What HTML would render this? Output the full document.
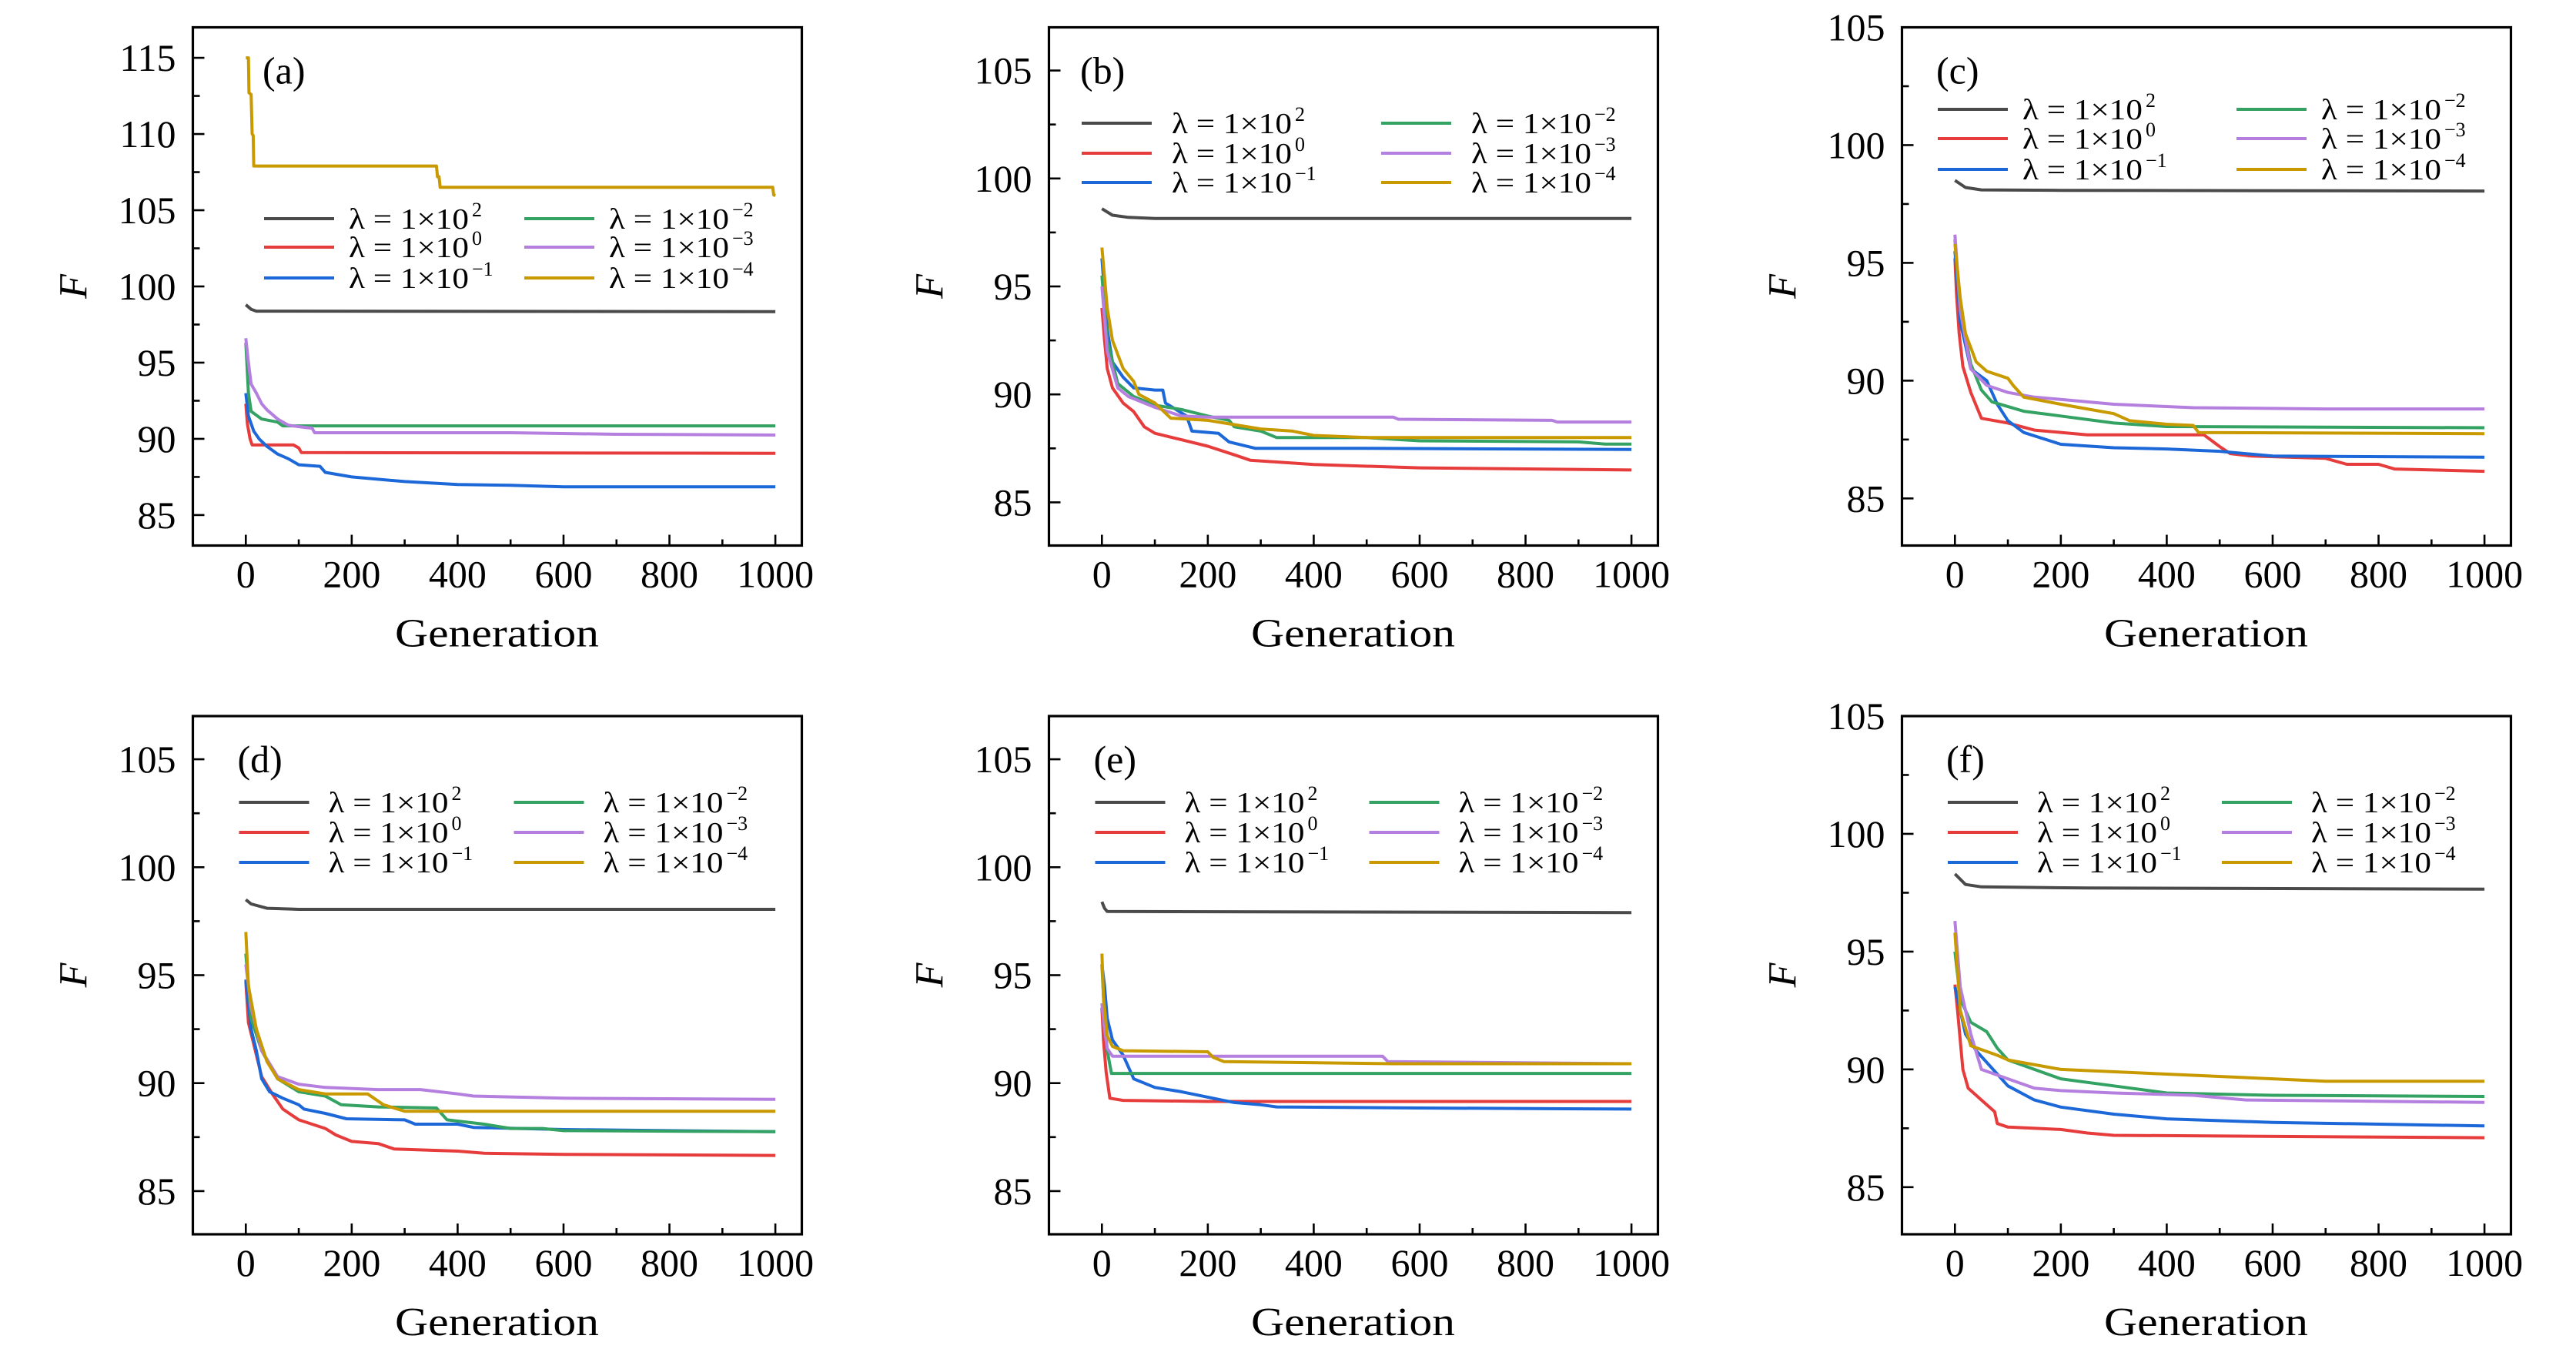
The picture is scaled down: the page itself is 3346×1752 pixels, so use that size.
<!DOCTYPE html>
<html><head><meta charset="utf-8">
<style>
html,body{margin:0;padding:0;background:#fff;}
svg{display:block;}
text{font-family:"Liberation Serif","DejaVu Serif",serif;fill:#000;}
</style></head>
<body>
<svg id="fig" width="3346" height="1752" viewBox="0 0 3346 1752" xmlns="http://www.w3.org/2000/svg"></svg>
<script>
// ---- data (generation, F) per panel & series ----
const xTicks = [0,200,400,600,800,1000];
const seriesLabels = ["2","0","−1","−2","−3","−4"];
const seriesColors = ["#4a4a4a","#e63c3c","#1c68d8","#34a262","#b47fde","#c89a00"];

const a_g0=[0,10,20,1000]; const a_f0=[98.8,98.5,98.38,98.35];
const a_g1=[0,3,8,12,90,100,105,1000]; const a_f1=[92.3,91,90,89.6,89.6,89.4,89.1,89.05];
const a_g2=[0,5,15,25,40,60,80,100,140,150,200,300,400,500,600,1000]; const a_f2=[93,91.5,90.5,90,89.5,89,88.7,88.3,88.2,87.8,87.5,87.2,87.0,86.95,86.85,86.85];
const a_g3=[0,5,10,30,60,70,1000]; const a_f3=[96.3,93,91.8,91.3,91.1,90.85,90.85];
const a_g4=[0,5,10,20,30,40,60,80,100,125,130,500,700,1000]; const a_f4=[96.6,95,93.6,93,92.3,91.9,91.3,90.9,90.8,90.7,90.4,90.4,90.3,90.25];
const a_g5=[0,5,6,10,12,14,15,360,362,365,367,995,997,1000]; const a_f5=[115,115,112.7,112.6,110,109.9,107.9,107.9,107.2,107.2,106.5,106.5,106.0,105.95];

const b_g0=[0,20,50,100,1000]; const b_f0=[98.6,98.3,98.2,98.15,98.15];
const b_g1=[0,5,10,20,40,60,80,100,150,200,250,280,400,600,1000]; const b_f1=[94,92.5,91.2,90.3,89.6,89.2,88.5,88.2,87.9,87.6,87.2,86.95,86.75,86.6,86.5];
const b_g2=[0,10,20,40,60,100,115,120,160,170,220,240,290,500,1000]; const b_f2=[96.3,93,91.5,90.8,90.3,90.2,90.2,89.6,89.0,88.3,88.2,87.8,87.5,87.5,87.45];
const b_g3=[0,10,30,60,100,150,200,240,250,300,330,500,600,900,950,1000]; const b_f3=[95.5,92.5,90.5,89.9,89.5,89.3,89.0,88.8,88.5,88.3,88.0,88.0,87.85,87.8,87.7,87.7];
const b_g4=[0,10,30,50,100,150,200,550,560,850,860,1000]; const b_f4=[95,92,90.3,89.9,89.4,89.0,88.95,88.95,88.85,88.8,88.72,88.72];
const b_g5=[0,10,20,40,60,70,100,130,200,250,300,360,400,500,1000]; const b_f5=[96.8,94,92.5,91.2,90.6,90,89.6,88.9,88.8,88.6,88.4,88.3,88.1,88.0,88.0];

const c_g0=[0,20,50,200,1000]; const c_f0=[98.5,98.2,98.1,98.08,98.05];
const c_g1=[0,3,8,15,30,50,100,150,250,470,500,520,560,700,740,800,830,1000]; const c_f1=[95.2,93.7,92,90.6,89.5,88.4,88.2,87.9,87.7,87.7,87.2,86.9,86.8,86.7,86.45,86.45,86.25,86.15];
const c_g2=[0,10,30,60,80,100,130,200,300,400,500,600,1000]; const c_f2=[95.5,92.5,90.5,90,89,88.3,87.8,87.3,87.15,87.1,87.0,86.8,86.75];
const c_g3=[0,10,30,50,70,130,200,300,400,1000]; const c_f3=[96,93,90.7,89.6,89.1,88.7,88.5,88.2,88.05,88.0];
const c_g4=[0,10,30,60,100,150,200,300,450,700,1000]; const c_f4=[96.2,93,90.5,89.8,89.5,89.3,89.2,89.0,88.85,88.8,88.8];
const c_g5=[0,10,20,40,60,100,110,130,200,250,300,330,400,450,460,1000]; const c_f5=[95.8,93.5,92,90.8,90.4,90.1,89.8,89.3,89.0,88.8,88.6,88.3,88.15,88.1,87.8,87.75];

const d_g0=[0,10,40,100,1000]; const d_f0=[98.5,98.3,98.1,98.05,98.05];
const d_g1=[0,5,15,30,50,70,100,150,170,200,250,280,400,450,600,1000]; const d_f1=[94.7,92.8,91.8,90.3,89.5,88.8,88.3,87.9,87.6,87.3,87.2,86.95,86.85,86.75,86.7,86.65];
const d_g2=[0,10,20,30,45,70,100,110,150,190,300,320,400,430,600,1000]; const d_f2=[94.8,92.5,91.5,90.2,89.6,89.3,89.0,88.8,88.6,88.35,88.3,88.1,88.1,87.95,87.85,87.75];
const d_g3=[0,10,30,60,100,150,180,250,360,380,450,500,560,600,1000]; const d_f3=[96,93,91.5,90.2,89.6,89.4,89.0,88.9,88.85,88.3,88.1,87.9,87.9,87.8,87.75];
const d_g4=[0,10,30,60,100,150,250,330,400,430,600,1000]; const d_f4=[95.5,93.5,91.5,90.3,89.95,89.8,89.7,89.7,89.5,89.4,89.3,89.25];
const d_g5=[0,5,20,40,60,100,150,230,260,300,1000]; const d_f5=[97,94.5,92.5,91,90.2,89.7,89.5,89.5,89.0,88.7,88.7];

const e_g0=[0,5,10,1000]; const e_f0=[98.4,98.1,97.95,97.9];
const e_g1=[0,3,8,15,40,200,1000]; const e_f1=[93.5,92,90.5,89.3,89.2,89.15,89.15];
const e_g2=[0,5,10,20,40,60,80,100,150,200,250,300,330,600,1000]; const e_f2=[95.5,94.5,93,92,91.3,90.2,90,89.8,89.6,89.35,89.1,89.0,88.9,88.85,88.8];
const e_g3=[0,5,10,18,1000]; const e_f3=[95.5,93,91.5,90.45,90.45];
const e_g4=[0,5,10,20,530,540,1000]; const e_f4=[93.7,92.5,91.6,91.25,91.25,91.0,90.9];
const e_g5=[0,3,10,20,40,200,210,230,550,1000]; const e_f5=[96,94,92.2,91.7,91.5,91.45,91.2,91.0,90.9,90.9];

const f_g0=[0,20,50,250,1000]; const f_f0=[98.3,97.85,97.75,97.7,97.65];
const f_g1=[0,5,15,25,50,75,80,100,200,250,300,1000]; const f_f1=[93.6,92.5,90,89.2,88.7,88.2,87.7,87.55,87.45,87.3,87.2,87.1];
const f_g2=[0,10,20,40,80,100,150,200,300,400,600,1000]; const f_f2=[93.5,92.5,91.5,90.8,89.8,89.3,88.7,88.4,88.1,87.9,87.75,87.6];
const f_g3=[0,10,30,60,80,100,150,200,300,400,600,1000]; const f_f3=[95,93,92,91.6,90.9,90.4,90.0,89.6,89.3,89.0,88.9,88.85];
const f_g4=[0,10,30,50,100,150,200,300,450,550,1000]; const f_f4=[96.3,93.5,91.5,90,89.6,89.2,89.1,89.0,88.9,88.7,88.6];
const f_g5=[0,10,30,80,100,200,400,600,700,1000]; const f_f5=[95.8,92.5,91,90.6,90.4,90.0,89.8,89.6,89.5,89.5];

const yTicksA=[85,90,95,100,105,110,115];
const yTicksB=[85,90,95,100,105];

const panels=[
 {id:"a",left:250.5,top:35.5,ymin:83,ymax:117,yt:yTicksA,gens:[a_g0,a_g1,a_g2,a_g3,a_g4,a_g5],vals:[a_f0,a_f1,a_f2,a_f3,a_f4,a_f5],lx:92.5,ly:[284,321,361],col2:338,tx:110},
 {id:"b",left:1362.5,top:35.5,ymin:83,ymax:107,yt:yTicksB,gens:[b_g0,b_g1,b_g2,b_g3,b_g4,b_g5],vals:[b_f0,b_f1,b_f2,b_f3,b_f4,b_f5],lx:42.5,ly:[160,199,237],col2:389,tx:117},
 {id:"c",left:2470.5,top:35.5,ymin:83,ymax:105,yt:yTicksB,gens:[c_g0,c_g1,c_g2,c_g3,c_g4,c_g5],vals:[c_f0,c_f1,c_f2,c_f3,c_f4,c_f5],lx:46.5,ly:[142,180,220],col2:388,tx:110},
 {id:"d",left:250.5,top:930,ymin:83,ymax:107,yt:yTicksB,gens:[d_g0,d_g1,d_g2,d_g3,d_g4,d_g5],vals:[d_f0,d_f1,d_f2,d_f3,d_f4,d_f5],lx:60,ly:[1042,1081,1120],col2:357,tx:116},
 {id:"e",left:1362.5,top:930,ymin:83,ymax:107,yt:yTicksB,gens:[e_g0,e_g1,e_g2,e_g3,e_g4,e_g5],vals:[e_f0,e_f1,e_f2,e_f3,e_f4,e_f5],lx:60,ly:[1042,1081,1120],col2:356,tx:116},
 {id:"f",left:2470.5,top:930,ymin:83,ymax:105,yt:yTicksB,gens:[f_g0,f_g1,f_g2,f_g3,f_g4,f_g5],vals:[f_f0,f_f1,f_f2,f_f3,f_f4,f_f5],lx:59.5,ly:[1042,1081,1120],col2:356,tx:116}
];

const NS="http://www.w3.org/2000/svg";
const svg=document.getElementById("fig");
function mk(tag,attrs,parent){const e=document.createElementNS(NS,tag);for(const k in attrs)e.setAttribute(k,attrs[k]);(parent||svg).appendChild(e);return e;}

const W=791,H=673,XMIN=-100,XMAX=1050;
panels.forEach(p=>{
  const g=mk("g",{});
  
  
  const sx=v=>p.left+(v-XMIN)/(XMAX-XMIN)*W;
  const sy=v=>p.top+H-(v-p.ymin)/(p.ymax-p.ymin)*H;
  const bottom=p.top+H;
  // series
  p.gens.forEach((gs,i)=>{
    const pts=gs.map((x,j)=>sx(x).toFixed(1)+","+sy(p.vals[i][j]).toFixed(1)).join(" ");
    const pl=mk("polyline",{points:pts,fill:"none",stroke:seriesColors[i],"stroke-width":4,"stroke-linejoin":"round"},g);
    
    
  });
  // frame
  const fr=mk("rect",{x:p.left,y:p.top,width:W,height:H,fill:"none",stroke:"#000","stroke-width":3.2},g);
  
  
  // x ticks
  for(let v=0;v<=1000;v+=100){
    const major=v%200===0;
    mk("line",{x1:sx(v),x2:sx(v),y1:bottom,y2:bottom-(major?14:8),stroke:"#000","stroke-width":2.6},g);
  }
  xTicks.forEach(v=>{
    const t=mk("text",{x:sx(v),y:bottom+54,"font-size":50,"text-anchor":"middle"},g);
    t.textContent=String(v);
    
    
  });
  // y ticks
  for(let v=Math.ceil(p.ymin/2.5)*2.5;v<=p.ymax;v+=2.5){
    const major=v%5===0;
    mk("line",{x1:p.left,x2:p.left+(major?15:9),y1:sy(v),y2:sy(v),stroke:"#000","stroke-width":2.6},g);
  }
  p.yt.forEach(v=>{
    const t=mk("text",{x:p.left-22,y:sy(v)+17,"font-size":50,"text-anchor":"end"},g);
    t.textContent=String(v);
    
    
  });
  // axis titles
  const xt=mk("text",{x:p.left+395,y:bottom+131,"font-size":52,"text-anchor":"middle",textLength:265,lengthAdjust:"spacingAndGlyphs"},g);
  xt.textContent="Generation";
  
  
  const cy=p.top+H/2;
  const yt=mk("text",{x:p.left-138,y:cy,"font-size":52,"font-style":"italic","text-anchor":"middle",transform:"rotate(-90 "+(p.left-138)+" "+cy+")"},g);
  yt.textContent="F";
  
  
  // panel label
  const pl=mk("text",{x:p.left+p.lx-2,y:p.top+73,"font-size":50},g);
  pl.textContent="("+p.id+")";
  
  
  // legend
  const lg=mk("g",{},g);
  
  
  seriesLabels.forEach((s,i)=>{
    const col=Math.floor(i/3),row=i%3;
    const x0=p.left+p.lx+col*p.col2, y0=p.ly[row];
    const ln=mk("line",{x1:x0,x2:x0+91,y1:y0,y2:y0,stroke:seriesColors[i],"stroke-width":4},lg);
    
    
    const t=mk("text",{x:x0+p.tx,y:y0+13,"font-size":38,textLength:156,lengthAdjust:"spacingAndGlyphs"},lg);
    t.textContent="λ = 1×10";
    
    
    const sp=mk("text",{x:x0+p.tx+160,y:y0-3,"font-size":26},lg);
    sp.textContent=s;
    
    
  });
});
</script>
</body></html>
